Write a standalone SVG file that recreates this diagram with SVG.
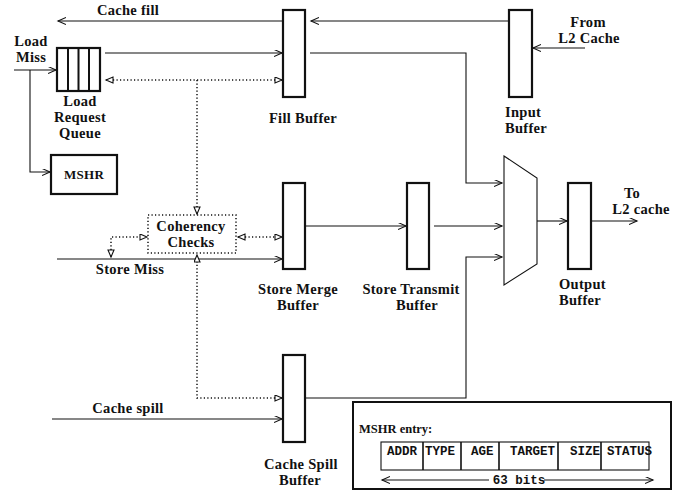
<svg xmlns="http://www.w3.org/2000/svg" width="687" height="491" viewBox="0 0 687 491">
<style>
.t{font-family:"Liberation Serif","Times New Roman",serif;font-weight:bold;font-size:14.5px;letter-spacing:0.3px;fill:#111;text-anchor:middle}
.tl{text-anchor:start}
.m{font-family:"Liberation Mono","Courier New",monospace;font-weight:bold;font-size:12.5px;fill:#111}
.buf{fill:#fff;stroke:#111;stroke-width:2.2}
.ln{fill:none;stroke:#111;stroke-width:1.1}
.dot{fill:none;stroke:#111;stroke-width:1.5;stroke-dasharray:1.2 2.3}
</style>
<defs>
<marker id="ar" markerUnits="userSpaceOnUse" markerWidth="10" markerHeight="9" refX="8" refY="3.5" orient="auto-start-reverse">
<path d="M0,0 L8,3.5 L0,7" fill="none" stroke="#111" stroke-width="1.1"/>
</marker>
<marker id="tr" markerUnits="userSpaceOnUse" markerWidth="10" markerHeight="9" refX="8" refY="3.5" orient="auto-start-reverse">
<path d="M1,0.5 L8,3.5 L1,6.5 Z" fill="#fff" stroke="#111" stroke-width="1.1"/>
</marker>
</defs>

<g id="connectors">
<line class="ln" x1="283" y1="21" x2="58" y2="21" marker-end="url(#ar)"/>
<line class="ln" x1="509" y1="21" x2="311" y2="21" marker-end="url(#ar)"/>
<line class="ln" x1="585" y1="48" x2="533" y2="48" marker-end="url(#ar)"/>
<line class="ln" x1="14" y1="70" x2="56" y2="70" marker-end="url(#ar)"/>
<path class="ln" d="M30,70 V172 H50" marker-end="url(#ar)"/>
<line class="ln" x1="105" y1="53" x2="282" y2="53" marker-end="url(#ar)"/>
<path class="ln" d="M310,53 H466 V183 H502" marker-end="url(#ar)"/>
<line class="dot" x1="106" y1="80" x2="282" y2="80" marker-start="url(#tr)" marker-end="url(#tr)"/>
<line class="dot" x1="197" y1="80" x2="197" y2="214" marker-end="url(#tr)"/>
<line class="ln" x1="57" y1="259" x2="282" y2="259" marker-end="url(#ar)"/>
<path class="dot" d="M111,257 V237 H147" marker-start="url(#tr)" marker-end="url(#tr)"/>
<line class="dot" x1="238" y1="237" x2="282" y2="237" marker-start="url(#tr)" marker-end="url(#tr)"/>
<path class="dot" d="M282,398 H197 V255" marker-start="url(#tr)" marker-end="url(#tr)"/>
<line class="ln" x1="305" y1="226" x2="406" y2="226" marker-end="url(#ar)"/>
<line class="ln" x1="434" y1="226" x2="502" y2="226" marker-end="url(#ar)"/>
<path class="ln" d="M305,398 H466 V257 H502" marker-end="url(#ar)"/>
<line class="ln" x1="52" y1="419" x2="282" y2="419" marker-end="url(#ar)"/>
<line class="ln" x1="537" y1="221" x2="567" y2="221" marker-end="url(#ar)"/>
<line class="ln" x1="591" y1="221" x2="637" y2="221" marker-end="url(#ar)"/>
</g>

<g id="labels">
<text class="t" x="128" y="15">Cache fill</text>
<text class="t" x="31" y="46">Load</text>
<text class="t" x="31" y="62">Miss</text>
<text class="t" x="588" y="27">From</text>
<text class="t" x="589" y="43">L2 Cache</text>
<text class="t" x="130" y="274">Store Miss</text>
<text class="t" x="128" y="413">Cache spill</text>
<text class="t" x="632" y="198">To</text>
<text class="t" x="641" y="214">L2 cache</text>
</g>

<g id="load-request-queue">
<rect class="buf" x="57" y="48" width="43" height="43"/>
<path d="M68,48 V91 M78.5,48 V91 M89,48 V91" stroke="#111" stroke-width="2"/>
<text class="t" x="80" y="106">Load</text>
<text class="t" x="80" y="122">Request</text>
<text class="t" x="80" y="138">Queue</text>
</g>

<g id="mshr">
<rect class="buf" x="51" y="155" width="66" height="39"/>
<text class="t" x="84" y="179" style="font-size:13px">MSHR</text>
</g>

<g id="fill-buffer">
<rect class="buf" x="283" y="10" width="22" height="87"/>
<text class="t" x="303" y="123">Fill Buffer</text>
</g>

<g id="input-buffer">
<rect class="buf" x="509" y="10" width="23" height="87"/>
<text class="t tl" x="505" y="117">Input</text>
<text class="t tl" x="505" y="133">Buffer</text>
</g>

<g id="coherency-checks">
<rect class="dot" x="148" y="215" width="88" height="38"/>
<text class="t" x="191" y="231">Coherency</text>
<text class="t" x="191" y="247">Checks</text>
</g>

<g id="store-merge-buffer">
<rect class="buf" x="283" y="183" width="22" height="86"/>
<text class="t" x="298" y="294">Store Merge</text>
<text class="t" x="298" y="310">Buffer</text>
</g>

<g id="store-transmit-buffer">
<rect class="buf" x="407" y="183" width="22" height="86"/>
<text class="t" x="411" y="294">Store Transmit</text>
<text class="t" x="417" y="310">Buffer</text>
</g>

<g id="mux">
<path d="M504,156 L537,178 L537,264 L504,285 Z" fill="#fff" stroke="#111" stroke-width="1.1"/>
</g>

<g id="output-buffer">
<rect class="buf" x="568" y="183" width="23" height="86"/>
<text class="t tl" x="559" y="289">Output</text>
<text class="t tl" x="559" y="305">Buffer</text>
</g>

<g id="cache-spill-buffer">
<rect class="buf" x="283" y="355" width="22" height="87"/>
<text class="t" x="301" y="469">Cache Spill</text>
<text class="t" x="300" y="485">Buffer</text>
</g>

<g id="mshr-entry">
<rect x="353" y="402" width="318" height="87" fill="#fff" stroke="#111" stroke-width="2"/>
<text class="t tl" x="359" y="433" style="font-size:12.5px;letter-spacing:0">MSHR entry:</text>
<rect x="381" y="442" width="268" height="28" fill="none" stroke="#111" stroke-width="1.1"/>
<path d="M423,442 V470 M461,442 V470 M499,442 V470 M558,442 V470 M601,442 V470" stroke="#111" stroke-width="1.6"/>
<text class="m" x="387" y="455">ADDR</text>
<text class="m" x="425" y="455">TYPE</text>
<text class="m" x="471" y="455">AGE</text>
<text class="m" x="510" y="455">TARGET</text>
<text class="m" x="570" y="455">SIZE</text>
<text class="m" x="607" y="455">STATUS</text>
<line class="ln" x1="489" y1="480" x2="382" y2="480" marker-end="url(#ar)"/>
<line class="ln" x1="544" y1="480" x2="653" y2="480" marker-end="url(#ar)"/>
<text class="m" x="519" y="484" text-anchor="middle">63 bits</text>
</g>
</svg>
